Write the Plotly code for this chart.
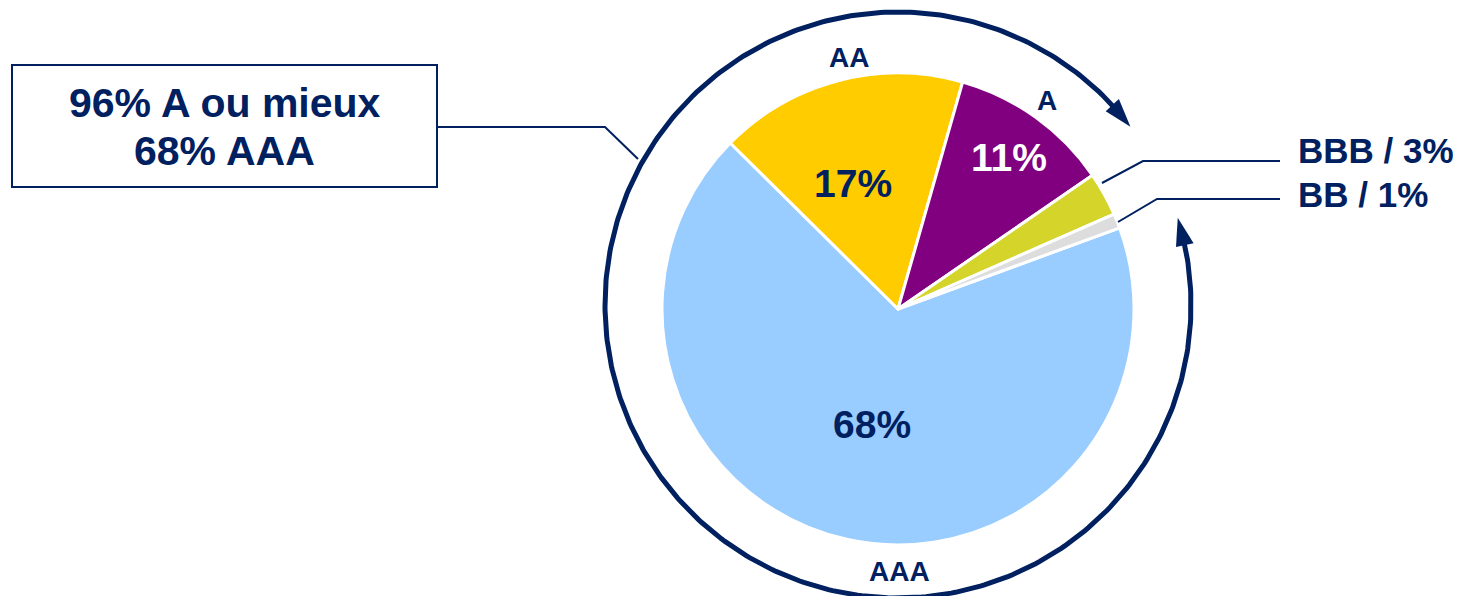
import numpy as np
import plotly.graph_objects as go

# ---- data ----
ratings = ['AAA', 'AA', 'A', 'BBB', 'BB']
shares = [68, 17, 11, 3, 1]
slice_colors = ['#99CCFF', '#FFCC00', '#800080', '#D4D42A', '#DDDDDD']
inside_text_colors = ['#002060', '#002060', '#FFFFFF', '#002060', '#002060']
show_inside = [True, True, True, False, False]
box_lines = ['96% A ou mieux', '68% AAA']
side_labels = ['BBB / 3%', 'BB / 1%']

# ---- layout constants (pixels) ----
W, H = 1459, 596
NAVY = '#002060'
FONT = 'Liberation Sans, Arial, sans-serif'
pcx, pcy, pr = 898, 309, 236          # pie centre / radius
ccx, ccy, cr = 898, 305, 293          # outer ring
inside_label_xy = {'AAA': (872, 424), 'AA': (853, 183), 'A': (1009, 157)}

fig = go.Figure()

fig.add_trace(go.Pie(
    labels=ratings, values=shares, sort=False, direction='clockwise', rotation=69.9,
    marker=dict(colors=slice_colors, line=dict(color='white', width=3)),
    textinfo='none',
    domain=dict(x=[(pcx - pr) / W, (pcx + pr) / W], y=[(H - pcy - pr) / H, (H - pcy + pr) / H]),
    hoverinfo='skip', showlegend=False))

# outer ring arc with arrows
a_start, a_end = 72.7, 52.5 + 360     # clockwise angles from 12 o'clock
head = 5.5
th = np.radians(np.linspace(a_start + head * 0.6, a_end - head * 0.6, 400))
fig.add_trace(go.Scatter(x=ccx + cr * np.sin(th), y=ccy - cr * np.cos(th), mode='lines',
                         line=dict(color=NAVY, width=5), hoverinfo='skip', showlegend=False))

def arrow_head(tip_deg, back_deg):
    t = np.radians(tip_deg)
    b = np.radians(back_deg)
    tip = (ccx + cr * np.sin(t), ccy - cr * np.cos(t))
    p1 = (ccx + (cr + 9) * np.sin(b), ccy - (cr + 9) * np.cos(b))
    p2 = (ccx + (cr - 9) * np.sin(b), ccy - (cr - 9) * np.cos(b))
    return f'M {tip[0]},{tip[1]} L {p1[0]},{p1[1]} L {p2[0]},{p2[1]} Z'

shapes = [
    dict(type='path', path=arrow_head(a_end, a_end - head), fillcolor=NAVY, line=dict(width=0),
         xref='x', yref='y'),
    dict(type='path', path=arrow_head(a_start, a_start + head), fillcolor=NAVY, line=dict(width=0),
         xref='x', yref='y'),
    dict(type='rect', x0=12, y0=65, x1=437, y1=187, line=dict(color=NAVY, width=2),
         xref='x', yref='y'),
    dict(type='path', path='M 437,127 L 605,127 L 638,159', line=dict(color=NAVY, width=2),
         xref='x', yref='y'),
    dict(type='path', path='M 1102,183 L 1143,161 L 1280,161', line=dict(color=NAVY, width=2),
         xref='x', yref='y'),
    dict(type='path', path='M 1118,222 L 1157,199 L 1280,199', line=dict(color=NAVY, width=2),
         xref='x', yref='y'),
]

annotations = []
def add_text(txt, x, y, size, xanchor='center', color=NAVY):
    annotations.append(dict(text=txt, x=x, y=y, xref='x', yref='y', showarrow=False,
                            xanchor=xanchor, yanchor='middle',
                            font=dict(family=FONT, size=size, color=color, weight='bold')))

# inside percentage labels
for lab, v, col, show in zip(ratings, shares, inside_text_colors, show_inside):
    if show:
        x, y = inside_label_xy[lab]
        add_text(f'{v}%', x, y, 39, color=col)

add_text(box_lines[0], 224.5, 103, 41)
add_text(box_lines[1], 224.5, 151, 41)
add_text(ratings[1], 849, 57, 28)
add_text(ratings[2], 1047, 100, 28)
add_text(ratings[0], 899, 571, 28)
add_text(side_labels[0], 1296, 150, 35, 'left')
add_text(side_labels[1], 1296, 194, 35, 'left')

fig.update_layout(
    width=W, height=H, margin=dict(l=0, r=0, t=0, b=0),
    paper_bgcolor='white', plot_bgcolor='white',
    xaxis=dict(range=[0, W], visible=False, domain=[0, 1], fixedrange=True),
    yaxis=dict(range=[H, 0], visible=False, domain=[0, 1], fixedrange=True),
    shapes=shapes, annotations=annotations, showlegend=False,
)

fig.write_html('out.html')
